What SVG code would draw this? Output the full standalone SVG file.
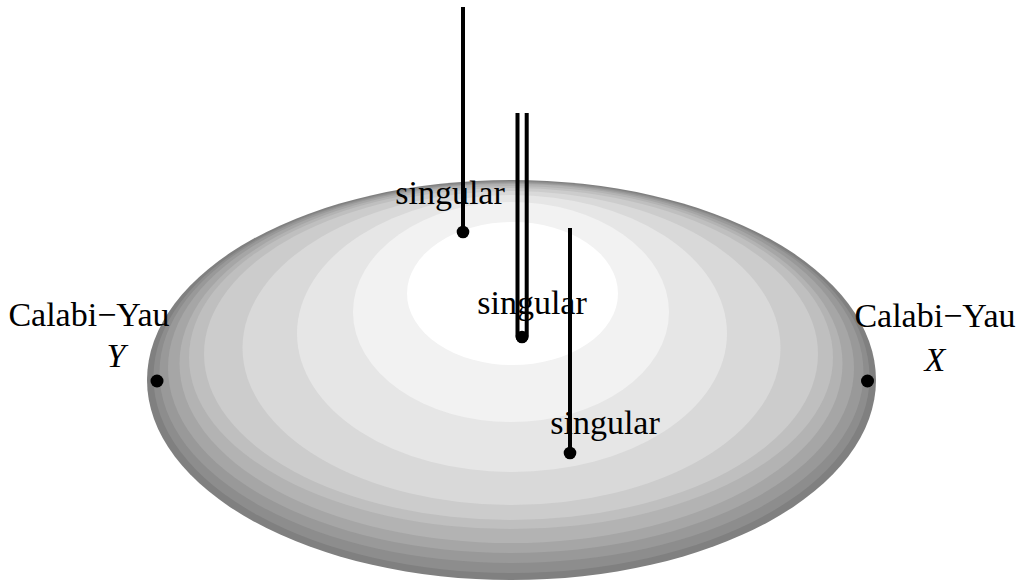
<svg xmlns="http://www.w3.org/2000/svg" width="1018" height="582" viewBox="0 0 1018 582">
<style>
.lbl{font-family:"Liberation Serif","Times New Roman",serif;font-size:34px;fill:#000;text-anchor:middle}
.it{font-style:italic}
.str{stroke:#000;stroke-width:4;fill:none}
.dot{fill:#000}
</style>
<rect width="1018" height="582" fill="#fff"/>
<g id="surface">
<ellipse cx="511.5" cy="380" rx="364.5" ry="200" fill="#808080"/>
<ellipse cx="511.5" cy="377" rx="358" ry="196" fill="#8d8d8d"/>
<ellipse cx="511.5" cy="372.5" rx="352" ry="190.5" fill="#999999"/>
<ellipse cx="511" cy="368" rx="343" ry="185" fill="#a6a6a6"/>
<ellipse cx="511" cy="363.5" rx="331.5" ry="179.5" fill="#b3b3b3"/>
<ellipse cx="511" cy="357.5" rx="322" ry="171.5" fill="#bfbfbf"/>
<ellipse cx="511" cy="354" rx="307" ry="166" fill="#cccccc"/>
<ellipse cx="511.5" cy="348" rx="269" ry="157" fill="#d9d9d9"/>
<ellipse cx="512" cy="333.5" rx="215" ry="138.5" fill="#e6e6e6"/>
<ellipse cx="511" cy="312" rx="158" ry="110" fill="#f2f2f2"/>
<ellipse cx="512.5" cy="293.5" rx="105.5" ry="71.5" fill="#ffffff"/>
</g>
<g id="connectors">
<line class="str" x1="463" y1="7" x2="463" y2="232"/>
<path class="str" d="M517.5,113 V336 A4.6,4.6 0 0 0 526.7,336 V113"/>
<line class="str" x1="570" y1="228" x2="570" y2="453"/>
</g>
<g id="singular1">
<text class="lbl" x="450" y="204">singular</text>
<circle class="dot" cx="463" cy="232" r="6.3"/>
</g>
<g id="singular2">
<text class="lbl" x="532" y="314">singular</text>
<circle class="dot" cx="522" cy="337" r="6.3"/>
</g>
<g id="singular3">
<text class="lbl" x="605" y="434">singular</text>
<circle class="dot" cx="570" cy="453" r="6.3"/>
</g>
<g id="cyY">
<text class="lbl" x="89" y="326">Calabi−Yau</text>
<text class="lbl it" x="116" y="367">Y</text>
<circle class="dot" cx="157" cy="381" r="6.5"/>
</g>
<g id="cyX">
<text class="lbl" x="935" y="327">Calabi−Yau</text>
<text class="lbl it" x="935" y="371">X</text>
<circle class="dot" cx="867.5" cy="381" r="6.5"/>
</g>
</svg>
